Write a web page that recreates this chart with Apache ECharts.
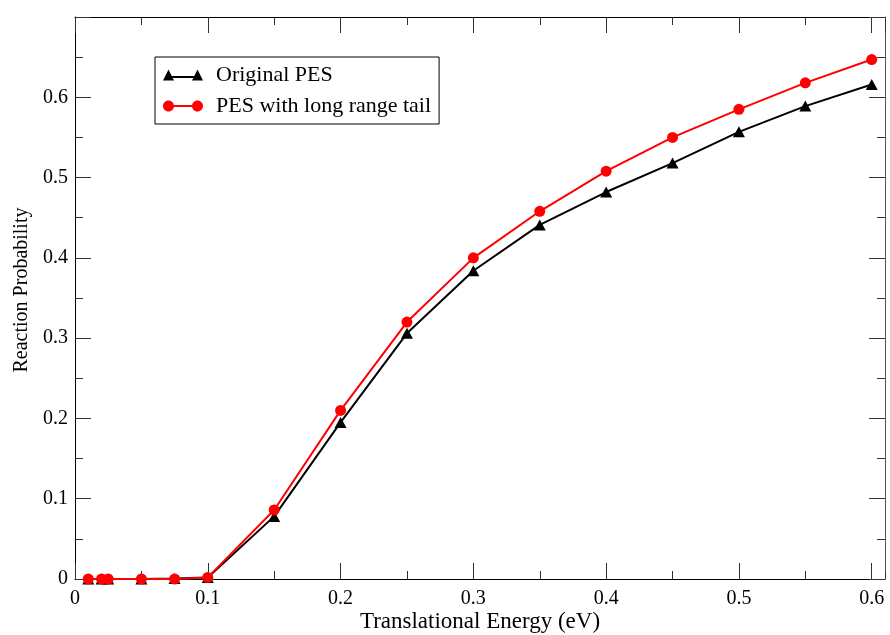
<!DOCTYPE html>
<html>
<head>
<meta charset="utf-8">
<script src="https://cdn.jsdelivr.net/npm/echarts@6/dist/echarts.min.js"></script>
<style>html,body{margin:0;padding:0;background:#fff}#c{width:890px;height:635px}</style>
</head>
<body>
<div id="c"></div>
<script>
var energies = [0.01, 0.02, 0.025, 0.05, 0.075, 0.1, 0.15, 0.2, 0.25, 0.3, 0.35, 0.4, 0.45, 0.5, 0.55, 0.6];
var originalPES = [0, 0, 0, 0, 0.0005, 0.002, 0.078, 0.195, 0.306, 0.384, 0.441, 0.482, 0.518, 0.557, 0.589, 0.616];
var longRangePES = [0, 0, 0, 0, 0, 0.002, 0.086, 0.210, 0.320, 0.400, 0.458, 0.508, 0.550, 0.585, 0.618, 0.647];
var seriesNames = ['Original PES', 'PES with long range tail'];
var xTitle = 'Translational Energy (eV)';
var yTitle = 'Reaction Probability';

function pairs(xs, ys) { return xs.map(function (x, i) { return [x, ys[i]]; }); }

var FONT = 'Liberation Serif';
var XMIN = 0, XMAX = 0.61, YMIN = 0, YMAX = 0.7;

function xAx(pos, interval, len, labels, showLine, extra) {
  var a = {
    type: 'value', position: pos, min: XMIN, max: XMAX, interval: interval,
    axisLine: { show: showLine, onZero: false, lineStyle: { color: '#000', width: 1 } },
    axisTick: { show: true, inside: true, length: len, lineStyle: { color: '#333', width: 1 } },
    axisLabel: { show: labels, showMaxLabel: false, fontFamily: FONT, fontSize: 20, color: '#000', margin: 10,
      formatter: function (v) { return +v.toFixed(2) + ''; } },
    splitLine: { show: false }
  };
  for (var k in extra) a[k] = extra[k];
  return a;
}
function yAx(pos, labels, extra) {
  var a = {
    type: 'value', position: pos, min: YMIN, max: YMAX, interval: 0.1,
    axisLine: { show: true, onZero: false, lineStyle: { color: pos === 'left' ? '#000' : '#555', width: 1 } },
    axisTick: { show: true, inside: true, length: 16, lineStyle: { color: '#333', width: 1 } },
    minorTick: { show: true, splitNumber: 2, length: 8, lineStyle: { color: '#333', width: 1 } },
    axisLabel: { show: labels, showMaxLabel: false, fontFamily: FONT, fontSize: 20, color: '#000', margin: 7,
      formatter: function (v) { return +v.toFixed(2) + ''; } },
    splitLine: { show: false }
  };
  for (var k in extra) a[k] = extra[k];
  return a;
}

// circle as bezier path, clockwise
function circ(cx, cy, r) {
  var k = 0.5523 * r;
  return 'M' + (cx - r) + ',' + cy +
    ' C' + (cx - r) + ',' + (cy - k) + ' ' + (cx - k) + ',' + (cy - r) + ' ' + cx + ',' + (cy - r) +
    ' C' + (cx + k) + ',' + (cy - r) + ' ' + (cx + r) + ',' + (cy - k) + ' ' + (cx + r) + ',' + cy +
    ' C' + (cx + r) + ',' + (cy + k) + ' ' + (cx + k) + ',' + (cy + r) + ' ' + cx + ',' + (cy + r) +
    ' C' + (cx - k) + ',' + (cy + r) + ' ' + (cx - r) + ',' + (cy + k) + ' ' + (cx - r) + ',' + cy + ' Z';
}
var circleIcon = 'path://' + circ(5.5, 5.5, 5.5) + ' M5,4.5 L35,4.5 L35,6.5 L5,6.5 Z ' + circ(34.5, 5.5, 5.5);
var triIcon = 'path://M0,11 L5.5,0 L11,11 Z M5,6.5 L35,6.5 L35,8.5 L5,8.5 Z M29,11 L34.5,0 L40,11 Z';

var chart = echarts.init(document.getElementById('c'), null, { renderer: 'canvas' });
chart.setOption({
  animation: false,
  backgroundColor: '#fff',
  grid: { left: 75, top: 17, right: 5, bottom: 56, containLabel: false, outerBoundsMode: 'none' },
  xAxis: [
    xAx('bottom', 0.1, 16, true, true, { name: xTitle, nameLocation: 'middle', nameGap: 31, nameMoveOverlap: false,
      nameTextStyle: { fontFamily: FONT, fontSize: 23, color: '#000' } }),
    xAx('top', 0.1, 16, false, true, {}),
    xAx('bottom', 0.05, 8, false, false, {}),
    xAx('top', 0.05, 8, false, false, {})
  ],
  yAxis: [
    yAx('left', true, { name: yTitle, nameLocation: 'middle', nameGap: 43, nameMoveOverlap: false,
      nameTextStyle: { fontFamily: FONT, fontSize: 20, color: '#000', padding: [0, 0, 0, 16] } }),
    yAx('right', false, {})
  ],
  legend: {
    left: 155, top: 57, orient: 'vertical', itemGap: 9,
    padding: [7, 8, 7, 8],
    borderColor: '#000', borderWidth: 1, backgroundColor: '#fff',
    itemWidth: 40, itemHeight: 11,
    textStyle: { fontFamily: FONT, fontSize: 22, color: '#000', padding: [0, 0, 0, 8] },
    data: [
      { name: seriesNames[0], icon: triIcon },
      { name: seriesNames[1], icon: circleIcon }
    ]
  },
  series: [
    {
      name: seriesNames[0], type: 'line', xAxisIndex: 0, yAxisIndex: 0,
      data: pairs(energies, originalPES),
      symbol: 'triangle', symbolSize: [12, 11],
      lineStyle: { color: '#000', width: 2 },
      itemStyle: { color: '#000' }, z: 2
    },
    {
      name: seriesNames[1], type: 'line', xAxisIndex: 0, yAxisIndex: 0,
      data: pairs(energies, longRangePES),
      symbol: 'circle', symbolSize: 11,
      lineStyle: { color: '#ff0000', width: 2 },
      itemStyle: { color: '#ff0000' }, z: 3
    }
  ]
});
</script>
</body>
</html>
